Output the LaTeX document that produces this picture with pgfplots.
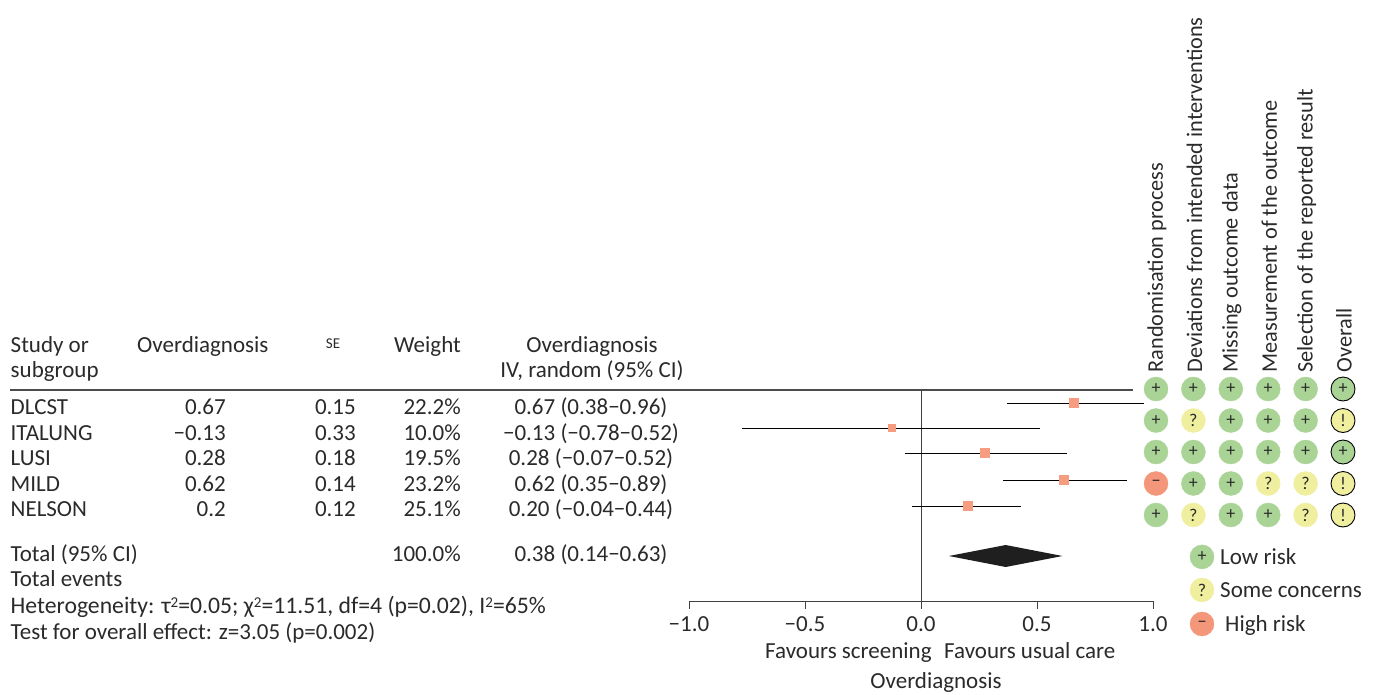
\documentclass[border=0pt]{standalone}
\usepackage{pgfplots}
\pgfplotsset{compat=1.18}
\usepackage{fontspec}
\setmainfont{Carlito}
\definecolor{rg}{HTML}{A9D496}
\definecolor{ry}{HTML}{EFEF9F}
\definecolor{rr}{HTML}{F4967A}
\definecolor{mk}{HTML}{F69C80}
\definecolor{tx}{HTML}{2A2A2A}
\newcommand{\T}[4][base]{\node[anchor=#1,inner sep=0pt,text=tx,font=\fontsize{23}{26}\selectfont] at (#2pt,-#3pt) {#4};}
\newcommand{\sss}{{\fontsize{15}{15}\selectfont\raisebox{6pt}{2}}}
\pgfplotsset{
 dot/.style={only marks,mark=*,mark size=12pt,mark options={draw=#1,fill=#1},
   nodes near coords style={anchor=center,inner sep=0pt,text=tx,font=\fontsize{18}{18}\selectfont}},
 odot/.style={only marks,mark=*,mark size=12pt,mark options={draw=black,line width=0.9pt,fill=#1},
   nodes near coords style={anchor=center,inner sep=0pt,text=tx,font=\fontsize{18}{18}\selectfont}},
}
\begin{document}
\begin{tikzpicture}[x=1pt,y=1pt]
\useasboundingbox (0,0) rectangle (1374,-695);
% table
\T[base west]{10.5}{352}{Study or}
\T[base west]{10.5}{377}{subgroup}
\T[base west]{137}{352}{Overdiagnosis}
\node[anchor=base,inner sep=0pt,text=tx,font=\fontsize{15}{16}\selectfont] at (333pt,-348pt) {SE};
\T[base east]{461}{352}{Weight}
\T{592}{352}{Overdiagnosis}
\T{592}{377}{IV, random (95\% CI)}
\draw[line width=1.3pt,color=black!70] (10,-390) -- (1133,-390);
\foreach \y/\a/\b/\c/\d/\e in {
 414/DLCST/0.67/0.15/22.2\%/0.67 (0.38−0.96),
 440/ITALUNG/−0.13/0.33/10.0\%/−0.13 (−0.78−0.52),
 465/LUSI/0.28/0.18/19.5\%/0.28 (−0.07−0.52),
 491/MILD/0.62/0.14/23.2\%/0.62 (0.35−0.89),
 516/NELSON/0.2/0.12/25.1\%/0.20 (−0.04−0.44)}{
 \T[base west]{10.5}{\y}{\a}
 \T[base east]{226}{\y}{\b}
 \T[base east]{356}{\y}{\c}
 \T[base east]{461}{\y}{\d}
 \T{591}{\y}{\e}
}
\T[base west]{10.5}{561}{Total (95\% CI)}
\T[base east]{461}{561}{100.0\%}
\T{591}{561}{0.38 (0.14−0.63)}
\T[base west]{10.5}{586}{Total events}
\node[anchor=base west,inner sep=0pt,text=tx,font=\fontsize{23.7}{26}\selectfont] at (10.5pt,-613pt) {Heterogeneity: τ\sss=0.05; χ\sss=11.51, df=4 (p=0.02), I\sss=65\%};
\T[base west]{10.5}{639}{Test for overall effect: z=3.05 (p=0.002)}
% forest axis
\begin{axis}[at={(689pt,-601pt)},anchor=south west,scale only axis,
  width=464pt,height=211pt,xmin=-1,xmax=1,ymin=390,ymax=601,y dir=reverse,
  axis x line=bottom,axis y line=none,axis line style={-,color=black!75,line width=0.8pt},
  xtick={-1,-0.5,0,0.5,1},xticklabels={−1.0,−0.5,0.0,0.5,1.0},
  tick align=outside,tick style={color=black!75,line width=0.8pt},major tick length=8pt,
  xticklabel style={font=\fontsize{23}{26}\selectfont,text=tx,yshift=-4pt},clip=false]
\addplot[black!75,line width=0.9pt] coordinates {(0,390) (0,601)};
\addplot[black,line width=0.9pt] coordinates {(0.37,403) (0.96,403)};
\addplot[black,line width=0.9pt] coordinates {(-0.77,428) (0.515,428)};
\addplot[black,line width=0.9pt] coordinates {(-0.07,453) (0.63,453)};
\addplot[black,line width=0.9pt] coordinates {(0.355,480) (0.89,480)};
\addplot[black,line width=0.9pt] coordinates {(-0.04,506) (0.43,506)};
\addplot[only marks,mark=square*,mark size=4.5pt,mark options={draw=mk,fill=mk}] coordinates {(0.66,403) (0.275,453) (0.615,480) (0.2,506)};
\addplot[only marks,mark=square*,mark size=3.5pt,mark options={draw=mk,fill=mk}] coordinates {(-0.125,428)};
\addplot[fill=black!88,draw=none] coordinates {(0.12,556) (0.365,545) (0.61,556) (0.365,567)} -- cycle;
\end{axis}
\T[base west]{765}{658}{Favours screening}
\T[base west]{944}{658}{Favours usual care}
\T{936}{688}{Overdiagnosis}
% risk axis
\begin{axis}[at={(1156pt,-515pt)},anchor=south west,scale only axis,
  width=187pt,height=126pt,xmin=1,xmax=6,ymin=1,ymax=5,y dir=reverse,
  clip=false,
  nodes near coords,point meta=explicit symbolic,
  axis x line=top,axis y line=none,axis line style={draw=none,-},
  xtick={1,2,3,4,5,6},major tick length=0pt,tick style={draw=none},
  xticklabels={Randomisation process,Deviations from intended interventions,Missing outcome data,Measurement of the outcome,Selection of the reported result,Overall},
  xticklabel style={rotate=90,anchor=west,font=\fontsize{22.3}{26}\selectfont,text=tx,xshift=13pt,yshift=-1pt}]
\addplot[dot=rg] coordinates {
 (1,1)[+] (2,1)[+] (3,1)[+] (4,1)[+] (5,1)[+]
 (1,2)[+] (3,2)[+] (4,2)[+] (5,2)[+]
 (1,3)[+] (2,3)[+] (3,3)[+] (4,3)[+] (5,3)[+]
 (2,4)[+] (3,4)[+]
 (1,5)[+] (3,5)[+] (4,5)[+]
 (2.23,6.33)[+]};
\addplot[dot=ry] coordinates {(2,2)[?] (4,4)[?] (5,4)[?] (2,5)[?] (5,5)[?] (2.23,7.38)[?]};
\addplot[dot=rr] coordinates {(1,4)[−] (2.23,8.46)[−]};
\addplot[odot=rg] coordinates {(6,1)[+] (6,3)[+]};
\addplot[odot=ry] coordinates {(6,2)[!] (6,4)[!] (6,5)[!]};
\end{axis}
\T[base west]{1220}{564}{Low risk}
\T[base west]{1220}{597}{Some concerns}
\T[base west]{1225}{631}{High risk}
\end{tikzpicture}
\end{document}
